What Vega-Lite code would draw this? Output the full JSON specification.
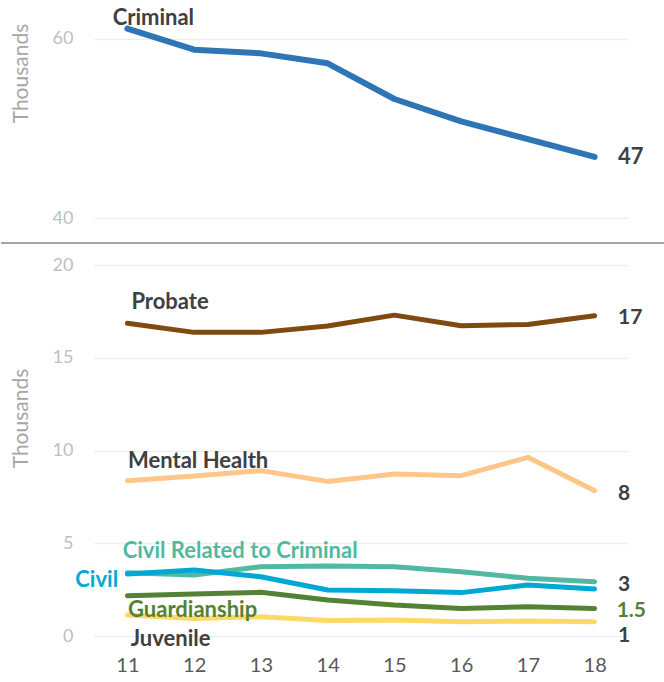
{
  "$schema": "https://vega.github.io/schema/vega-lite/v6.json",
  "autosize": {"type": "pad"},
  "padding": {"left": 0, "top": 7, "right": 0, "bottom": 5},
  "bounds": "flush",
  "spacing": 13,
  "config": {
    "view": {"stroke": null},
    "font": "Lato",
    "axisY": {
      "grid": true, "gridColor": "#EDEDED", "gridWidth": 1.5,
      "domain": false, "ticks": false,
      "labelColor": "#BFBFBF", "labelFontSize": 18, "labelPadding": 21,
      "titleColor": "#A6A6A6", "titleFontSize": 21, "titleFontWeight": "normal"
    },
    "axisX": {
      "grid": false, "domain": false, "ticks": false,
      "labelColor": "#595959", "labelFontSize": 20, "labelPadding": 19
    }
  },
  "datasets": {
    "top": [
      {"year": 11, "series": "Criminal", "value": 61.15},
      {"year": 12, "series": "Criminal", "value": 58.8},
      {"year": 13, "series": "Criminal", "value": 58.39},
      {"year": 14, "series": "Criminal", "value": 57.28},
      {"year": 15, "series": "Criminal", "value": 53.3},
      {"year": 16, "series": "Criminal", "value": 50.8},
      {"year": 17, "series": "Criminal", "value": 48.83},
      {"year": 18, "series": "Criminal", "value": 46.85}
    ],
    "topLabels": [
      {"x": 10.78, "y": 62.3, "text": "Criminal", "tone": "dark"},
      {"x": 18.35, "y": 46.8, "text": "47", "tone": "dark"}
    ],
    "separator": [
      {"x": 9.107, "x2": 19.06, "y": 37.25}
    ],
    "bottom": [
      {"year": 11, "series": "Probate", "value": 16.87},
      {"year": 12, "series": "Probate", "value": 16.38},
      {"year": 13, "series": "Probate", "value": 16.38},
      {"year": 14, "series": "Probate", "value": 16.72},
      {"year": 15, "series": "Probate", "value": 17.31},
      {"year": 16, "series": "Probate", "value": 16.74},
      {"year": 17, "series": "Probate", "value": 16.81},
      {"year": 18, "series": "Probate", "value": 17.28},
      {"year": 11, "series": "Mental Health", "value": 8.38},
      {"year": 12, "series": "Mental Health", "value": 8.63},
      {"year": 13, "series": "Mental Health", "value": 8.92},
      {"year": 14, "series": "Mental Health", "value": 8.34},
      {"year": 15, "series": "Mental Health", "value": 8.74},
      {"year": 16, "series": "Mental Health", "value": 8.65},
      {"year": 17, "series": "Mental Health", "value": 9.64},
      {"year": 18, "series": "Mental Health", "value": 7.84},
      {"year": 11, "series": "Civil Related to Criminal", "value": 3.41},
      {"year": 12, "series": "Civil Related to Criminal", "value": 3.29},
      {"year": 13, "series": "Civil Related to Criminal", "value": 3.74},
      {"year": 14, "series": "Civil Related to Criminal", "value": 3.78},
      {"year": 15, "series": "Civil Related to Criminal", "value": 3.74},
      {"year": 16, "series": "Civil Related to Criminal", "value": 3.47},
      {"year": 17, "series": "Civil Related to Criminal", "value": 3.11},
      {"year": 18, "series": "Civil Related to Criminal", "value": 2.93},
      {"year": 11, "series": "Civil", "value": 3.34},
      {"year": 12, "series": "Civil", "value": 3.56},
      {"year": 13, "series": "Civil", "value": 3.2},
      {"year": 14, "series": "Civil", "value": 2.48},
      {"year": 15, "series": "Civil", "value": 2.44},
      {"year": 16, "series": "Civil", "value": 2.34},
      {"year": 17, "series": "Civil", "value": 2.75},
      {"year": 18, "series": "Civil", "value": 2.54},
      {"year": 11, "series": "Guardianship", "value": 2.17},
      {"year": 12, "series": "Guardianship", "value": 2.27},
      {"year": 13, "series": "Guardianship", "value": 2.36},
      {"year": 14, "series": "Guardianship", "value": 1.94},
      {"year": 15, "series": "Guardianship", "value": 1.67},
      {"year": 16, "series": "Guardianship", "value": 1.49},
      {"year": 17, "series": "Guardianship", "value": 1.58},
      {"year": 18, "series": "Guardianship", "value": 1.49},
      {"year": 11, "series": "Juvenile", "value": 1.13},
      {"year": 12, "series": "Juvenile", "value": 0.95},
      {"year": 13, "series": "Juvenile", "value": 1.04},
      {"year": 14, "series": "Juvenile", "value": 0.83},
      {"year": 15, "series": "Juvenile", "value": 0.86},
      {"year": 16, "series": "Juvenile", "value": 0.77},
      {"year": 17, "series": "Juvenile", "value": 0.81},
      {"year": 18, "series": "Juvenile", "value": 0.77}
    ],
    "bottomLabels": [
      {"x": 11.06, "y": 18.0, "text": "Probate", "tone": "dark", "kind": "name"},
      {"x": 18.35, "y": 17.13, "text": "17", "tone": "dark", "kind": "end"},
      {"x": 11.01, "y": 9.46, "text": "Mental Health", "tone": "dark", "kind": "name"},
      {"x": 18.35, "y": 7.66, "text": "8", "tone": "dark", "kind": "end"},
      {"x": 10.93, "y": 4.57, "text": "Civil Related to Criminal", "tone": "Civil Related to Criminal", "kind": "name"},
      {"x": 10.22, "y": 3.01, "text": "Civil", "tone": "Civil", "kind": "name"},
      {"x": 18.35, "y": 2.76, "text": "3", "tone": "dark", "kind": "end"},
      {"x": 11.01, "y": 1.39, "text": "Guardianship", "tone": "Guardianship", "kind": "name"},
      {"x": 18.33, "y": 1.36, "text": "1.5", "tone": "Guardianship", "kind": "end"},
      {"x": 11.05, "y": -0.17, "text": "Juvenile", "tone": "dark", "kind": "name"},
      {"x": 18.35, "y": -0.01, "text": "1", "tone": "dark", "kind": "end"}
    ]
  },
  "vconcat": [
    {
      "width": 534,
      "height": 231,
      "layer": [
        {
          "data": {"name": "top"},
          "mark": {"type": "line", "strokeWidth": 6, "strokeCap": "round", "strokeJoin": "round"},
          "encoding": {
            "x": {"field": "year", "type": "quantitative", "scale": {"domain": [10.5, 18.5], "nice": false, "zero": false}, "axis": null},
            "y": {"field": "value", "type": "quantitative", "scale": {"domain": [37.25, 63], "nice": false, "zero": false}, "axis": {"values": [40, 60], "title": "Thousands", "titleX": -84, "titleY": 61, "titleBaseline": "top", "titleAnchor": "middle"}},
            "color": {"field": "series", "type": "nominal", "scale": {"domain": ["Criminal"], "range": ["#2E75B6"]}, "legend": null}
          }
        },
        {
          "data": {"name": "topLabels"},
          "mark": {"type": "text", "align": "left", "baseline": "middle", "fontSize": 22, "fontWeight": "bold"},
          "encoding": {
            "x": {"field": "x", "type": "quantitative"},
            "y": {"field": "y", "type": "quantitative"},
            "text": {"field": "text"},
            "color": {"field": "tone", "type": "nominal", "scale": {"domain": ["dark"], "range": ["#404040"]}, "legend": null}
          }
        },
        {
          "data": {"name": "separator"},
          "mark": {"type": "rule", "color": "#A6A6A6", "strokeWidth": 2},
          "encoding": {
            "x": {"field": "x", "type": "quantitative"},
            "x2": {"field": "x2"},
            "y": {"field": "y", "type": "quantitative"}
          }
        }
      ],
      "resolve": {"scale": {"color": "independent"}}
    },
    {
      "width": 534,
      "height": 380,
      "layer": [
        {
          "data": {"name": "bottom"},
          "mark": {"type": "line", "strokeWidth": 5, "strokeCap": "round", "strokeJoin": "round"},
          "encoding": {
            "x": {"field": "year", "type": "quantitative", "scale": {"domain": [10.5, 18.5], "nice": false, "zero": false}, "axis": {"values": [11, 12, 13, 14, 15, 16, 17, 18], "format": "d", "title": null}},
            "y": {"field": "value", "type": "quantitative", "scale": {"domain": [0, 20.5], "nice": false}, "axis": {"values": [0, 5, 10, 15, 20], "title": "Thousands", "titleX": -84, "titleY": 162, "titleBaseline": "top", "titleAnchor": "middle"}},
            "color": {"field": "series", "type": "nominal", "scale": {"domain": ["Probate", "Mental Health", "Civil Related to Criminal", "Civil", "Guardianship", "Juvenile"], "range": ["#7F4A10", "#FFC68A", "#50B9A0", "#00A8D2", "#548235", "#FFD966"]}, "legend": null}
          }
        },
        {
          "data": {"name": "bottomLabels"},
          "mark": {"type": "text", "align": "left", "baseline": "middle", "fontWeight": "bold"},
          "encoding": {
            "x": {"field": "x", "type": "quantitative"},
            "y": {"field": "y", "type": "quantitative"},
            "text": {"field": "text"},
            "size": {"field": "kind", "type": "nominal", "scale": {"domain": ["name", "end"], "range": [22, 21]}, "legend": null},
            "color": {"field": "tone", "type": "nominal", "scale": {"domain": ["dark", "Civil Related to Criminal", "Civil", "Guardianship"], "range": ["#404040", "#50B9A0", "#00A8D2", "#548235"]}, "legend": null}
          }
        }
      ],
      "resolve": {"scale": {"color": "independent"}}
    }
  ]
}
